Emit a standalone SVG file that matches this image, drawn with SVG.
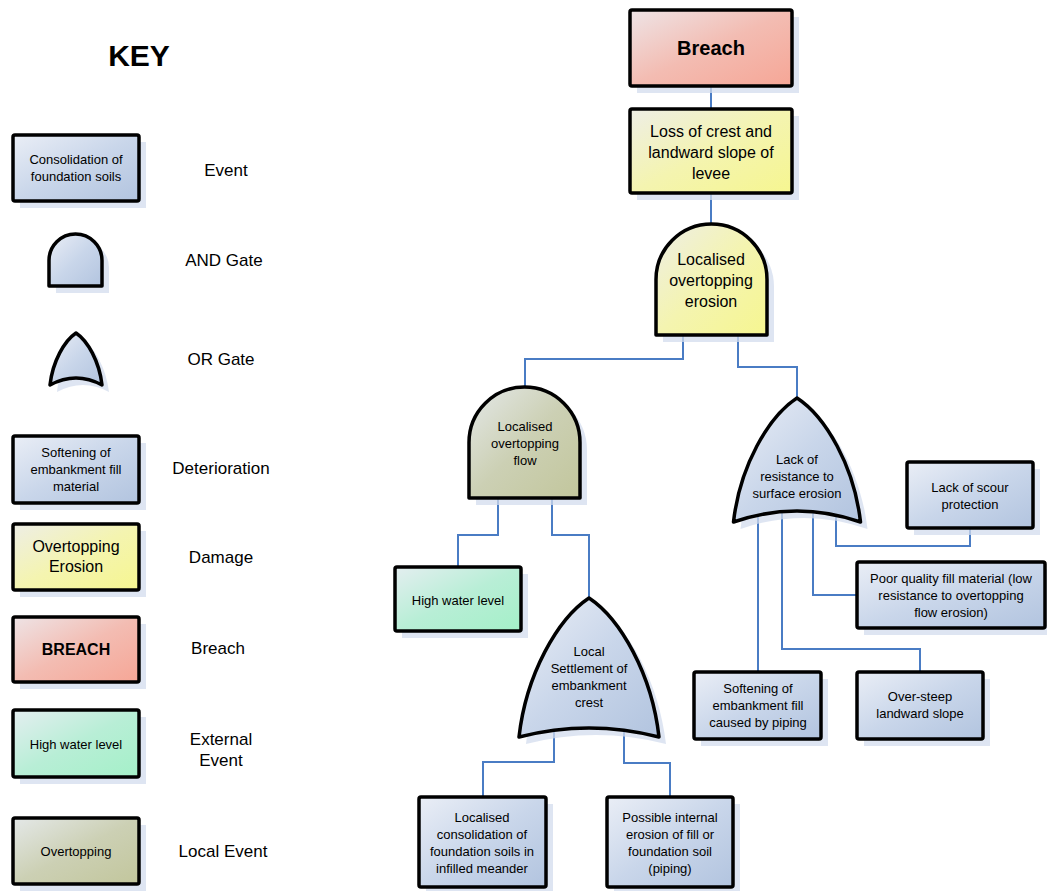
<svg xmlns="http://www.w3.org/2000/svg" width="1047" height="891" viewBox="0 0 1047 891">
<defs>
<linearGradient id="gBlue" x1="0" y1="0" x2="1" y2="1"><stop offset="0" stop-color="#eaeef6"/><stop offset="0.5" stop-color="#c9d6ea"/><stop offset="1" stop-color="#b2c4df"/></linearGradient>
<linearGradient id="gYel" x1="0" y1="0" x2="1" y2="1"><stop offset="0" stop-color="#eeeee6"/><stop offset="0.5" stop-color="#f4f4b0"/><stop offset="1" stop-color="#f6f690"/></linearGradient>
<linearGradient id="gRed" x1="0" y1="0" x2="1" y2="1"><stop offset="0" stop-color="#eee4e6"/><stop offset="0.5" stop-color="#f3bcb2"/><stop offset="1" stop-color="#f6a696"/></linearGradient>
<linearGradient id="gGrn" x1="0" y1="0" x2="1" y2="1"><stop offset="0" stop-color="#e4eef0"/><stop offset="0.5" stop-color="#b8eed6"/><stop offset="1" stop-color="#a4f0c8"/></linearGradient>
<linearGradient id="gOl" x1="0" y1="0" x2="1" y2="1"><stop offset="0" stop-color="#e4e8e8"/><stop offset="0.5" stop-color="#ccd0b4"/><stop offset="1" stop-color="#c2c69c"/></linearGradient>
</defs>
<style>
.sh{fill:#d3dced;opacity:0.75}
.bx{stroke:#000;stroke-width:3.5;stroke-linejoin:round}
.b{fill:url(#gBlue)}.y{fill:url(#gYel)}.r{fill:url(#gRed)}.g{fill:url(#gGrn)}.o{fill:url(#gOl)}
text{font-family:"Liberation Sans",Arial,sans-serif;fill:#000;text-anchor:middle}
.t13{font-size:13px}.t16{font-size:16px}.t17{font-size:17px}
.cn{fill:none;stroke:#4a7cc4;stroke-width:2}
</style>

<g id="key">
<text x="139" y="66" style="font-size:30px;font-weight:bold">KEY</text>
<g id="key-event">
<rect class="sh" x="20" y="142" width="126" height="66"/>
<rect class="bx b" x="13" y="135" width="126" height="66" rx="2"/>
<text class="t13" x="76" y="164">Consolidation of</text><text class="t13" x="76" y="181">foundation soils</text>
<text class="t17" x="226" y="176">Event</text>
</g>
<g id="key-and">
<path class="sh" d="M56,293 V267.5 A26.5,26.5 0 0 1 109,267.5 V293 Z"/>
<path class="bx b" d="M49,286 V260.5 A26.5,26.5 0 0 1 102,260.5 V286 Z"/>
<text class="t17" x="224" y="266">AND Gate</text>
</g>
<g id="key-or">
<path class="sh" d="M83,340 C94.7,347.8 106.4,368.6 109,392 Q83,378 57,392 C59.6,368.6 71.3,347.8 83,340 Z"/>
<path class="bx b" d="M76,333 C87.7,340.8 99.4,361.6 102,385 Q76,371 50,385 C52.6,361.6 64.3,340.8 76,333 Z"/>
<text class="t17" x="221" y="365">OR Gate</text>
</g>
<g id="key-det">
<rect class="sh" x="20" y="443" width="126" height="67"/>
<rect class="bx b" x="13" y="436" width="126" height="67" rx="2"/>
<text class="t13" x="76" y="457">Softening of</text><text class="t13" x="76" y="474">embankment fill</text><text class="t13" x="76" y="491">material</text>
<text class="t17" x="221" y="474">Deterioration</text>
</g>
<g id="key-dmg">
<rect class="sh" x="20" y="531" width="126" height="66"/>
<rect class="bx y" x="13" y="524" width="126" height="66" rx="2"/>
<text class="t16" x="76" y="552">Overtopping</text><text class="t16" x="76" y="572">Erosion</text>
<text class="t17" x="221" y="563">Damage</text>
</g>
<g id="key-breach">
<rect class="sh" x="20" y="624" width="126" height="65"/>
<rect class="bx r" x="13" y="617" width="126" height="65" rx="2"/>
<text class="t16" x="76" y="655" style="font-weight:bold">BREACH</text>
<text class="t17" x="218" y="654">Breach</text>
</g>
<g id="key-ext">
<rect class="sh" x="20" y="717" width="126" height="67"/>
<rect class="bx g" x="13" y="710" width="126" height="67" rx="2"/>
<text class="t13" x="76" y="749">High water level</text>
<text class="t17" x="221" y="745">External</text><text class="t17" x="221" y="766">Event</text>
</g>
<g id="key-local">
<rect class="sh" x="20" y="825" width="126" height="66"/>
<rect class="bx o" x="13" y="818" width="126" height="66" rx="2"/>
<text class="t13" x="76" y="856">Overtopping</text>
<text class="t17" x="223" y="857">Local Event</text>
</g>
</g>

<g id="connectors">
<path class="cn" d="M711,86 V109"/>
<path class="cn" d="M711,193 V224"/>
<path class="cn" d="M683,335 V359 H525 V387"/>
<path class="cn" d="M738,335 V367 H797 V398"/>
<path class="cn" d="M498,498 V535 H458 V567"/>
<path class="cn" d="M552,498 V535 H589 V598"/>
<path class="cn" d="M554,731 V762 H483 V797"/>
<path class="cn" d="M624,731 V763 H670 V797"/>
<path class="cn" d="M836,514 V546 H970 V528"/>
<path class="cn" d="M813,511 V595 H857"/>
<path class="cn" d="M782,510 V649 H920 V672"/>
<path class="cn" d="M758,513 V672"/>
</g>

<g id="n-breach">
<rect class="sh" x="637" y="17" width="162" height="76"/>
<rect class="bx r" x="630" y="10" width="162" height="76" rx="2"/>
<text x="711" y="55" style="font-size:20px;font-weight:bold">Breach</text>
</g>
<g id="n-loss">
<rect class="sh" x="637" y="116" width="162" height="84"/>
<rect class="bx y" x="630" y="109" width="162" height="84" rx="2"/>
<text class="t16" x="711" y="137">Loss of crest and</text><text class="t16" x="711" y="158">landward slope of</text><text class="t16" x="711" y="179">levee</text>
</g>
<g id="n-loe">
<path class="sh" d="M663,342 V286.5 A55.5,55.5 0 0 1 774,286.5 V342 Z"/>
<path class="bx y" d="M656,335 V279.5 A55.5,55.5 0 0 1 767,279.5 V335 Z"/>
<text class="t16" x="711" y="265">Localised</text><text class="t16" x="711" y="286">overtopping</text><text class="t16" x="711" y="307">erosion</text>
</g>
<g id="n-lof">
<path class="sh" d="M476,505 V449.5 A55.5,55.5 0 0 1 587,449.5 V505 Z"/>
<path class="bx o" d="M469,498 V442.5 A55.5,55.5 0 0 1 580,442.5 V498 Z"/>
<text class="t13" x="525" y="431">Localised</text><text class="t13" x="525" y="448">overtopping</text><text class="t13" x="525" y="465">flow</text>
</g>
<g id="n-hwl">
<rect class="sh" x="402" y="574" width="126" height="64"/>
<rect class="bx g" x="395" y="567" width="126" height="64" rx="2"/>
<text class="t13" x="458" y="605">High water level</text>
</g>
<g id="n-lse">
<path class="sh" d="M596,605 C627.5,625.9 659,681.5 666,744 Q596,726 526,744 C533,681.5 564.5,625.9 596,605 Z"/>
<path class="bx b" d="M589,598 C620.5,618.9 652,674.5 659,737 Q589,719 519,737 C526,674.5 557.5,618.9 589,598 Z"/>
<text class="t13" x="589" y="656">Local</text><text class="t13" x="589" y="673">Settlement of</text><text class="t13" x="589" y="690">embankment</text><text class="t13" x="589" y="707">crest</text>
</g>
<g id="n-lcf">
<rect class="sh" x="426" y="804" width="127" height="90"/>
<rect class="bx b" x="419" y="797" width="127" height="90" rx="2"/>
<text class="t13" x="482" y="822">Localised</text><text class="t13" x="482" y="839">consolidation of</text><text class="t13" x="482" y="856">foundation soils in</text><text class="t13" x="482" y="873">infilled meander</text>
</g>
<g id="n-pie">
<rect class="sh" x="614" y="804" width="126" height="90"/>
<rect class="bx b" x="607" y="797" width="126" height="90" rx="2"/>
<text class="t13" x="670" y="822">Possible internal</text><text class="t13" x="670" y="839">erosion of fill or</text><text class="t13" x="670" y="856">foundation soil</text><text class="t13" x="670" y="873">(piping)</text>
</g>
<g id="n-lrs">
<path class="sh" d="M804,405 C832.6,423.6 861.2,473.2 867.5,529 Q804,507 740.5,529 C746.8,473.2 775.4,423.6 804,405 Z"/>
<path class="bx b" d="M797,398 C825.6,416.6 854.2,466.2 860.5,522 Q797,500 733.5,522 C739.8,466.2 768.4,416.6 797,398 Z"/>
<text class="t13" x="797" y="464">Lack of</text><text class="t13" x="797" y="481">resistance to</text><text class="t13" x="797" y="498">surface erosion</text>
</g>
<g id="n-lsp">
<rect class="sh" x="914" y="469" width="126" height="66"/>
<rect class="bx b" x="907" y="462" width="126" height="66" rx="2"/>
<text class="t13" x="970" y="492">Lack of scour</text><text class="t13" x="970" y="509">protection</text>
</g>
<g id="n-pqf">
<rect class="sh" x="864" y="569" width="183" height="66"/>
<rect class="bx b" x="857" y="562" width="188" height="66" rx="2"/>
<text class="t13" x="951" y="583">Poor quality fill material (low</text><text class="t13" x="951" y="600">resistance to overtopping</text><text class="t13" x="951" y="617">flow erosion)</text>
</g>
<g id="n-sep">
<rect class="sh" x="701" y="679" width="127" height="67"/>
<rect class="bx b" x="694" y="672" width="127" height="67" rx="2"/>
<text class="t13" x="758" y="693">Softening of</text><text class="t13" x="758" y="710">embankment fill</text><text class="t13" x="758" y="727">caused by piping</text>
</g>
<g id="n-osl">
<rect class="sh" x="864" y="679" width="126" height="67"/>
<rect class="bx b" x="857" y="672" width="126" height="67" rx="2"/>
<text class="t13" x="920" y="701">Over-steep</text><text class="t13" x="920" y="718">landward slope</text>
</g>
</svg>
